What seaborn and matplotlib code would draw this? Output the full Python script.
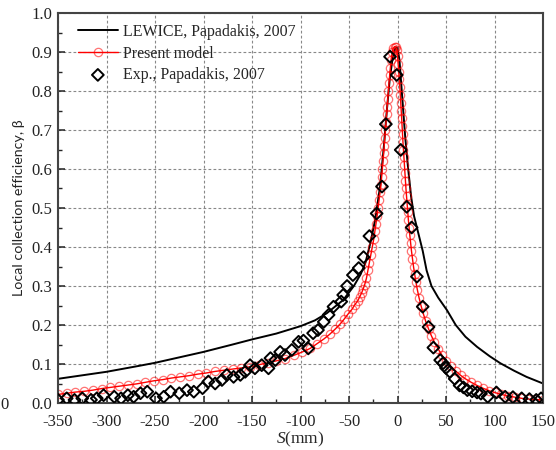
import numpy as np
import pandas as pd
import matplotlib
matplotlib.use("Agg")
import matplotlib.pyplot as plt
from matplotlib.ticker import MultipleLocator
import seaborn as sns

# LEWICE curve (Papadakis, 2007)
lewice_x = [-350, -300, -267, -250, -200, -170, -150, -125, -100, -85, -73, -56, -45, -38, -33, -28, -23, -18,
            -14, -11, -8, -5, -2, 0, 2, 5, 8, 11, 14, 17, 20, 23, 26, 30, 35, 42, 51, 60, 70, 82, 95, 106, 120,
            133, 150]
lewice_y = [0.062, 0.080, 0.095, 0.103, 0.131, 0.150, 0.163, 0.178, 0.197, 0.212, 0.230, 0.264, 0.300, 0.330,
            0.360, 0.410, 0.470, 0.555, 0.660, 0.750, 0.830, 0.885, 0.912, 0.910, 0.880, 0.780, 0.680, 0.600,
            0.530, 0.480, 0.450, 0.420, 0.390, 0.340, 0.300, 0.270, 0.238, 0.200, 0.170, 0.144, 0.120, 0.102,
            0.083, 0.067, 0.050]

# present model
model_x = [-350, -341, -332, -323, -314, -305, -296, -287, -278, -269, -260, -251, -242, -233, -224, -215, -206,
           -197, -188, -179, -170, -161, -152, -143, -134, -125, -116, -107, -98, -90, -83, -76, -70, -64, -59,
           -55, -51, -47, -44, -41, -39, -37, -35.5, -34,
           -32, -30.5, -29, -27.5, -26, -24.5, -23.3, -22, -21, -20, -19, -18, -17, -16.3, -15.6, -15, -14.3,
           -13.7, -13, -12.4, -11.8, -11.2, -10.6, -10, -9.4, -8.8, -8.1, -7.4, -6.6, -5.5, -4.3, -3, -1.8, -0.8,
           0, 0.7, 1.3, 1.9, 2.4, 2.9, 3.4, 3.8, 4.3, 4.7, 5.2, 5.6, 6.1, 6.6, 7.1, 7.6, 8.1, 8.7, 9.3, 9.9,
           10.5, 11.2, 11.9, 12.7, 13.5, 14.4, 15.4, 16.5, 17.7, 19, 20.5, 22.2, 24.2, 26.5, 29, 32,
           35, 38, 42, 46, 50, 55, 60, 65, 70, 76, 82, 88, 94, 100, 107, 114, 121, 128, 135, 142, 150]
model_y = [0.022, 0.025, 0.028, 0.030, 0.033, 0.037, 0.040, 0.043, 0.046, 0.049, 0.053, 0.057, 0.060, 0.064,
           0.067, 0.070, 0.074, 0.077, 0.081, 0.084, 0.087, 0.090, 0.093, 0.098, 0.103, 0.108, 0.114, 0.122,
           0.131, 0.140, 0.152, 0.164, 0.176, 0.190, 0.203, 0.215, 0.228, 0.240, 0.252, 0.262, 0.272, 0.282,
           0.292, 0.302,
           0.32, 0.34, 0.36, 0.38, 0.40, 0.42, 0.44, 0.46, 0.48, 0.50, 0.52, 0.54, 0.56, 0.58, 0.60, 0.62, 0.64,
           0.66, 0.68, 0.70, 0.72, 0.74, 0.76, 0.78, 0.80, 0.82, 0.84, 0.86, 0.88, 0.90, 0.91, 0.914, 0.912,
           0.905,
           0.89, 0.87, 0.85, 0.83, 0.81, 0.79, 0.77, 0.75, 0.73, 0.71, 0.69, 0.67, 0.65, 0.63, 0.61, 0.59, 0.57,
           0.55, 0.53, 0.51, 0.49, 0.47, 0.45, 0.43, 0.41, 0.39, 0.37, 0.35, 0.33, 0.31, 0.29, 0.27, 0.25, 0.23,
           0.21, 0.19,
           0.172, 0.156, 0.138, 0.122, 0.108, 0.094, 0.082, 0.071, 0.062, 0.053, 0.045, 0.038, 0.032, 0.027,
           0.022, 0.018, 0.015, 0.012, 0.010, 0.009, 0.008]

# experiment (Papadakis, 2007)
exp_x = [-350, -341, -333, -325, -316, -310, -303, -292, -285, -278, -272, -265, -258, -249, -241, -234, -225,
         -217, -210, -201, -195, -188, -181, -176, -169, -162, -157, -152, -147, -140, -133, -131, -126, -121,
         -116, -109, -102, -97, -92, -87, -82, -76, -71, -66, -58, -56, -52, -46, -40, -35, -29, -21.5, -16,
         -12, -7.7, -0.8, 3.3, 9.5, 14.6, 20, 26, 32, 37, 44, 47, 50, 54, 59, 64, 68, 72, 77, 82, 86, 93, 102,
         111, 119, 128, 136, 143, 148]
exp_y = [0.008, 0.012, 0.008, 0.012, 0.008, 0.012, 0.020, 0.016, 0.012, 0.020, 0.016, 0.025, 0.029, 0.012,
         0.016, 0.029, 0.025, 0.033, 0.029, 0.038, 0.055, 0.050, 0.059, 0.072, 0.067, 0.072, 0.080, 0.097,
         0.089, 0.097, 0.089, 0.115, 0.110, 0.131, 0.123, 0.136, 0.157, 0.160, 0.140, 0.179, 0.187, 0.208,
         0.226, 0.247, 0.260, 0.277, 0.300, 0.328, 0.346, 0.374, 0.428, 0.486, 0.555, 0.715, 0.888, 0.841,
         0.649, 0.503, 0.450, 0.324, 0.247, 0.195, 0.142, 0.110, 0.102, 0.090, 0.080, 0.062, 0.045, 0.040,
         0.033, 0.030, 0.027, 0.024, 0.016, 0.027, 0.016, 0.015, 0.012, 0.010, 0.008, 0.012]

lewice = pd.DataFrame({"S": lewice_x, "beta": lewice_y})
model = pd.DataFrame({"S": model_x, "beta": model_y})
exp = pd.DataFrame({"S": exp_x, "beta": exp_y})

sns.set_theme(style="ticks")
plt.rcParams["font.family"] = ["Liberation Serif", "DejaVu Serif"]
plt.rcParams["axes.unicode_minus"] = False
plt.rcParams["mathtext.fontset"] = "custom"
plt.rcParams["mathtext.it"] = "Liberation Serif:italic"
plt.rcParams["mathtext.rm"] = "Liberation Serif"

fig = plt.figure(figsize=(5.56, 4.5), dpi=100)
ax = fig.add_axes([58 / 556, 47 / 450, 485 / 556, 390 / 450])

sns.lineplot(data=lewice, x="S", y="beta", ax=ax, color="black", lw=1.4, sort=False, estimator=None,
             label="LEWICE, Papadakis, 2007")
sns.lineplot(data=model, x="S", y="beta", ax=ax, color="red", lw=1.0, sort=False, estimator=None,
             marker="o", markersize=6, markerfacecolor="none", markeredgecolor=(1, 0, 0, 0.55),
             markeredgewidth=0.9, label="Present model")
sns.scatterplot(data=exp, x="S", y="beta", ax=ax, marker="D", s=36, facecolor="none", edgecolor="black",
                linewidth=1.4, label="Exp., Papadakis, 2007", zorder=5)

ax.set_xlim(-350, 150)
ax.set_ylim(0, 1.0)
ax.xaxis.set_major_locator(MultipleLocator(50))
ax.xaxis.set_minor_locator(MultipleLocator(25))
ax.yaxis.set_major_locator(MultipleLocator(0.1))
ax.yaxis.set_minor_locator(MultipleLocator(0.05))
ax.tick_params(axis="both", which="major", direction="in", length=5, width=1.1, labelsize=12,
               colors="#222222", pad=4)
ax.tick_params(axis="x", which="major", pad=8)
ax.tick_params(axis="both", which="minor", direction="in", length=3, width=1.0)
ax.set_xticks(range(-350, 151, 50))
ax.set_yticks(np.round(np.arange(0, 1.01, 0.1), 1))
ax.set_yticklabels([f"{v:.1f}" for v in np.arange(0, 1.01, 0.1)])
ax.grid(True, which="major", ls=(0, (2.5, 2)), lw=0.8, color="#888888")
for sp in ax.spines.values():
    sp.set_linewidth(1.5)
    sp.set_color("#444444")

ax.set_xlabel("$S$(mm)", fontsize=12.5, labelpad=0)
ax.set_ylabel("Local collection efficiency, β", fontsize=10.3, family=["Lato", "DejaVu Sans"], labelpad=5)

ax.legend(loc="upper left", bbox_to_anchor=(0.041, 0.972), frameon=False, fontsize=11.5, borderpad=0,
          borderaxespad=0, handlelength=2.5, handletextpad=0.3, labelspacing=0.35)

fig.text(0.0, 45 / 450, "0", fontsize=12, ha="left", va="center", color="#222222")

fig.savefig("out.png", dpi=100)
